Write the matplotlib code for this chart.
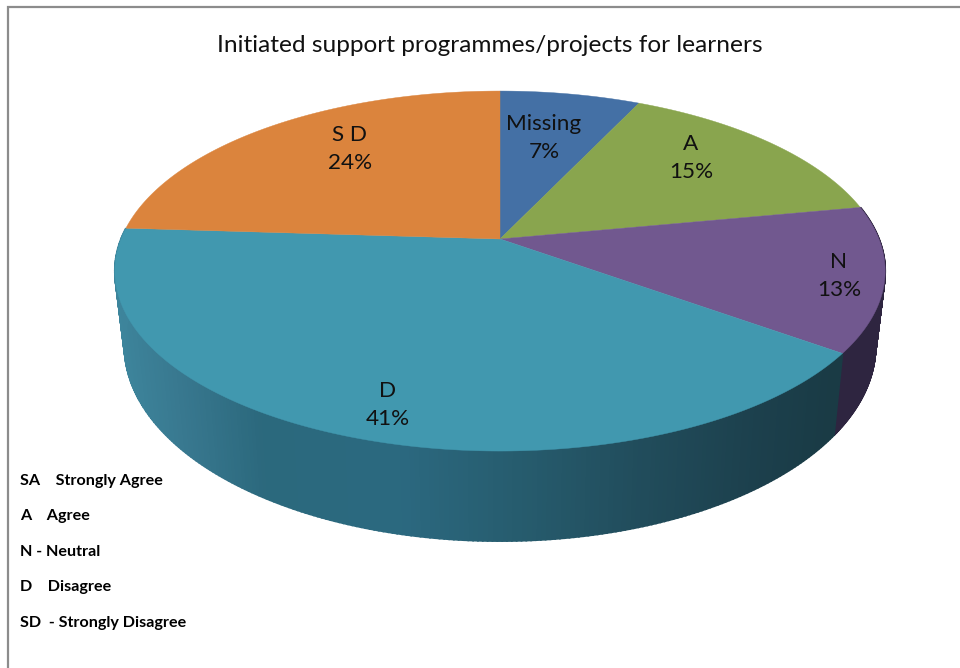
import numpy as np
import matplotlib
matplotlib.use("Agg")
import matplotlib.pyplot as plt

# --- data -------------------------------------------------------------
categories = ["Missing", "A", "N", "D", "S D"]
values = [7, 15, 13, 41, 24]
title = "Initiated support programmes/projects for learners"
key_lines = ["SA    Strongly Agree", "A    Agree", "N - Neutral", "D    Disagree", "SD  - Strongly Disagree"]

# --- styles -----------------------------------------------------------
top_colors = ["#4470a5", "#89a54e", "#71588f", "#4198af", "#db843d"]
side_stops_x = [115, 180, 260, 400, 520, 640, 760, 835]
side_stops_c = [(0.24, 0.52, 0.61), (0.22, 0.47, 0.56), (0.17, 0.41, 0.49), (0.17, 0.41, 0.50),
                (0.15, 0.36, 0.43), (0.13, 0.30, 0.36), (0.11, 0.25, 0.30), (0.10, 0.23, 0.27)]
purple_side = "#2e2540"
label_pos = [(544, 138), (691, 158), (839, 276), (388, 405), (350, 149)]
FONT = "Lato"

CX, CY, K, A, B = 500.0, 239.0, 0.178, 174.3, 379.0


def top_xy(theta):
    """Clockwise angle from 12 o'clock, on the disc of radius r=1, to canvas."""
    u, v = np.sin(theta), np.cos(theta)
    d = 1 + K * v
    return CX + B * u / d, CY - A * v / d


def bottom_xy(theta):
    x, y = top_xy(theta)
    return CX + (x - CX) * 0.975, y + 90 - (451 - y) * 0.083


fig = plt.figure(figsize=(9.6, 6.68), dpi=100)
ax = fig.add_axes([0, 0, 1, 1])
ax.set_xlim(0, 960)
ax.set_ylim(668, 0)
ax.axis("off")

# frame (left and top only)
ax.plot([7.5, 7.5, 960], [668, 6.5, 6.5], color="#8c8c8c", lw=1.6, solid_joinstyle="miter")

edges = np.cumsum([0] + values) / sum(values) * 2 * np.pi

# rim: only the two front slices show a side wall
for i in range(len(values)):
    if categories[i] not in ("D", "N"):
        continue
    th = np.linspace(edges[i], edges[i + 1], 240)
    for a, b in zip(th[:-1], th[1:]):
        if np.cos((a + b) / 2) > 0.22:
            continue
        xa, ya = top_xy(a)
        xb, yb = top_xy(b)
        xc, yc = bottom_xy(b)
        xd, yd = bottom_xy(a)
        if categories[i] == "D":
            mid = (xa + xb) / 2
            col = [np.interp(mid, side_stops_x, [c[k] for c in side_stops_c]) for k in range(3)]
        else:
            col = purple_side
        ax.fill([xa, xb, xc, xd], [ya, yb, yc, yd], facecolor=col, edgecolor=col, lw=1.3, zorder=2)

# top face
for i in range(len(values)):
    th = np.linspace(edges[i], edges[i + 1], 200)
    x, y = top_xy(th)
    ax.fill(np.r_[CX, x], np.r_[CY, y], color=top_colors[i], lw=0.3, zorder=3)

# labels
for name, val, (lx, ly) in zip(categories, values, label_pos):
    ax.text(lx, ly, f"{name}\n{val}%", ha="center", va="center", fontsize=16.2,
            family=FONT, color="#111111", linespacing=1.5, zorder=4)

ax.text(490, 45, title, ha="center", va="center", fontsize=17.6, family=FONT, color="#111111")

for line, y in zip(key_lines, [481, 516, 552, 587, 623]):
    ax.text(20, y, line, ha="left", va="center", fontsize=11.6, family=FONT,
            color="#000000", weight="bold")

fig.savefig("out.png", dpi=100, facecolor="white")
